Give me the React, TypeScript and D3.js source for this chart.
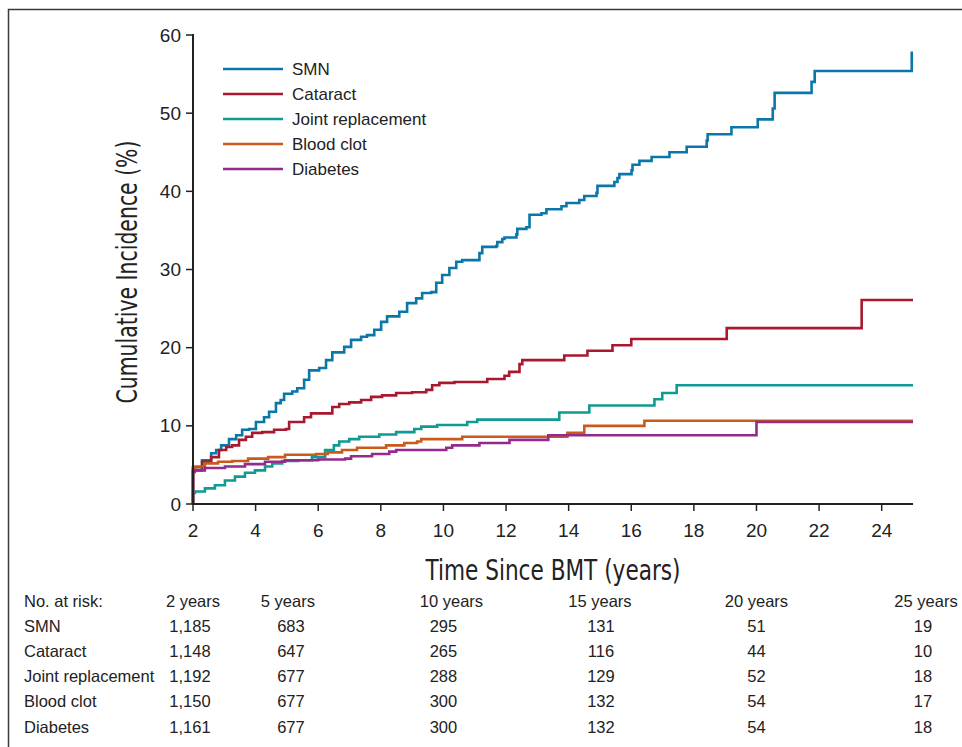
import React, { useEffect } from "react";
import * as d3 from "d3";

// series, [years since BMT, cumulative incidence %]
const smn: [number, number][] = [
  [2, 4.3], [2.29, 5.6], [2.58, 6.5], [2.74, 6.9], [2.9, 7.5], [3.15, 8.3], [3.38, 8.8],
  [3.57, 9.5], [3.79, 9.6], [4.01, 10.5], [4.27, 11.1], [4.43, 11.8], [4.65, 12.9],
  [4.8, 13.3], [4.91, 14.1], [5.17, 14.4], [5.33, 14.8], [5.55, 15.9], [5.71, 17.1],
  [6.03, 17.4], [6.25, 18.4], [6.45, 19.4], [6.83, 20.1], [7.05, 21.0], [7.37, 21.4],
  [7.56, 21.6], [7.79, 22.3], [8.01, 23.3], [8.2, 24.0], [8.59, 24.6], [8.84, 25.7],
  [9.13, 26.3], [9.32, 27.0], [9.61, 27.1], [9.77, 28.3], [9.96, 29.3], [10.19, 30.2],
  [10.41, 31.0], [10.6, 31.2], [11.15, 32.1], [11.24, 32.9], [11.69, 33.0], [11.72, 33.5],
  [11.88, 33.9], [11.95, 34.1], [12.33, 34.5], [12.36, 35.2], [12.65, 35.4], [12.75, 37.0],
  [13.13, 37.2], [13.29, 37.7], [13.77, 38.1], [13.93, 38.5], [14.34, 38.9], [14.5, 39.4],
  [14.89, 39.8], [14.92, 40.7], [15.46, 41.2], [15.56, 41.7], [15.62, 42.2], [16.01, 42.7],
  [16.04, 43.4], [16.26, 43.9], [16.65, 44.4], [17.22, 45.0], [17.77, 45.7], [18.41, 46.5],
  [18.44, 47.3], [19.2, 48.2], [20.04, 49.2], [20.52, 50.6], [20.58, 52.6], [21.76, 54.0],
  [21.86, 55.4], [24.96, 57.9],
];
const cataract: [number, number][] = [
  [2, 4.7], [2.29, 5.4], [2.58, 6.0], [2.83, 6.9], [3.06, 7.3], [3.25, 7.5], [3.47, 8.2],
  [3.69, 8.6], [3.89, 9.1], [4.21, 9.2], [4.59, 9.5], [4.97, 9.6], [5.07, 10.5], [5.55, 11.1],
  [5.77, 11.6], [6.45, 12.4], [6.67, 12.8], [6.99, 13.0], [7.37, 13.3], [7.69, 13.7],
  [8.04, 13.9], [8.49, 14.2], [9.0, 14.3], [9.45, 14.6], [9.64, 15.2], [9.87, 15.5],
  [10.35, 15.6], [11.4, 16.0], [11.95, 16.4], [12.1, 16.9], [12.43, 17.9], [12.52, 18.4],
  [13.86, 19.0], [14.6, 19.6], [15.4, 20.3], [16.0, 21.1], [19.05, 22.5], [23.36, 26.1],
  [25, 26.1],
];
const joint: [number, number][] = [
  [2, 1.4], [2.06, 1.6], [2.38, 2.0], [2.7, 2.4], [3.02, 3.0], [3.34, 3.5], [3.66, 4.0],
  [3.98, 4.3], [4.3, 4.8], [4.53, 5.2], [4.85, 5.5], [5.36, 5.6], [5.8, 6.0], [6.22, 6.9],
  [6.5, 7.5], [6.67, 8.0], [6.99, 8.3], [7.31, 8.6], [7.95, 8.9], [8.49, 9.2], [9.07, 9.6],
  [9.29, 9.9], [9.8, 10.1], [10.76, 10.5], [11.08, 10.8], [13.7, 11.7], [14.66, 12.6],
  [16.74, 13.4], [16.99, 14.2], [17.45, 15.2], [25, 15.2],
];
const bloodClot: [number, number][] = [
  [2, 4.6], [2.06, 4.8], [2.38, 5.2], [2.8, 5.4], [3.25, 5.5], [3.76, 5.8], [4.4, 6.0],
  [4.94, 6.3], [5.93, 6.4], [6.3, 6.6], [6.76, 6.9], [7.24, 7.2], [8.17, 7.5], [8.75, 7.8],
  [9.16, 8.0], [9.29, 8.3], [10.6, 8.6], [13.96, 9.1], [14.5, 10.0], [16.42, 10.65],
  [25, 10.65],
];
const diabetes: [number, number][] = [
  [2, 4.1], [2.06, 4.3], [2.38, 4.6], [3.02, 4.8], [3.66, 5.1], [4.3, 5.4], [4.94, 5.6],
  [6.0, 5.7], [6.86, 5.8], [7.05, 6.1], [7.72, 6.4], [8.27, 6.7], [8.49, 6.9], [10.09, 7.2],
  [10.28, 7.5], [11.15, 7.8], [12.11, 8.2], [13.35, 8.8], [20.0, 10.5], [25, 10.5],
];

const seriesNames = ["SMN", "Cataract", "Joint replacement", "Blood clot", "Diabetes"];
const seriesData = [smn, cataract, joint, bloodClot, diabetes];
const seriesColors = ["#0b77a8", "#a8192f", "#0f9a93", "#c95a1c", "#942a8b"];

const xTicks = [2, 4, 6, 8, 10, 12, 14, 16, 18, 20, 22, 24];
const yTicks = [0, 10, 20, 30, 40, 50, 60];

const riskYears = [2, 5, 10, 15, 20, 25];
const riskSMN = ["1,185", "683", "295", "131", "51", "19"];
const riskCataract = ["1,148", "647", "265", "116", "44", "10"];
const riskJoint = ["1,192", "677", "288", "129", "52", "18"];
const riskBlood = ["1,150", "677", "300", "132", "54", "17"];
const riskDiabetes = ["1,161", "677", "300", "132", "54", "18"];
const riskRows = [riskSMN, riskCataract, riskJoint, riskBlood, riskDiabetes];

const W = 962;
const H = 747;

const App = () => {
  useEffect(() => {
    document.body.style.margin = "0";
  }, []);

  const x = d3.scaleLinear().domain([2, 25]).range([193, 913]);
  const y = d3.scaleLinear().domain([0, 60]).range([504, 35]);

  const line = d3
    .line<[number, number]>()
    .x((d) => x(d[0]))
    .y((d) => y(d[1]))
    .curve(d3.curveStepAfter);

  const sans = "'Liberation Sans', Arial, Helvetica, sans-serif";
  const narrow = "'Liberation Sans Narrow', 'DejaVu Sans Condensed', sans-serif";

  // small nudges for the risk table columns
  const headDx = [0, 1, 8, 0, 0, 13];
  const numDx = [-3, 4, 0, 1, 0, 10];

  return (
    <svg width={W} height={H} style={{ display: "block", background: "#fff" }}>
      {/* frame */}
      <path d={`M8.5,${H} L8.5,9.5 L${W},9.5`} fill="none" stroke="#3a3a3a" strokeWidth={1.5} />

      {/* curves */}
      {seriesData.map((s, i) => (
        <path
          key={seriesNames[i]}
          d={line([[2, 0], ...s]) || ""}
          fill="none"
          stroke={seriesColors[i]}
          strokeWidth={2.6}
        />
      ))}

      {/* y axis */}
      <line x1={x(2)} x2={x(2)} y1={y(60) - 1} y2={y(0) + 1} stroke="#222" strokeWidth={2} />
      {yTicks.map((t) => (
        <g key={t}>
          <line x1={x(2) - 7} x2={x(2)} y1={y(t)} y2={y(t)} stroke="#222" strokeWidth={1.5} />
          <text
            x={x(2) - 12}
            y={y(t)}
            dy="0.35em"
            textAnchor="end"
            fontFamily={sans}
            fontSize={19}
            fill="#222"
          >
            {t}
          </text>
        </g>
      ))}

      {/* x axis */}
      <line x1={x(2) - 1} x2={x(25)} y1={y(0)} y2={y(0)} stroke="#222" strokeWidth={2} />
      {xTicks.map((t) => (
        <g key={t}>
          <line x1={x(t)} x2={x(t)} y1={y(0)} y2={y(0) + 7} stroke="#222" strokeWidth={1.5} />
          <text
            x={x(t)}
            y={y(0) + 33}
            textAnchor="middle"
            fontFamily={sans}
            fontSize={19}
            fill="#222"
          >
            {t}
          </text>
        </g>
      ))}

      {/* axis titles */}
      <text
        x={553}
        y={580}
        textAnchor="middle"
        fontFamily={narrow}
        fontSize={28}
        fill="#222"
        textLength={255}
        lengthAdjust="spacingAndGlyphs"
      >
        Time Since BMT (years)
      </text>
      <text
        transform="translate(137,272) rotate(-90)"
        textAnchor="middle"
        fontFamily={narrow}
        fontSize={28}
        fill="#222"
        textLength={263}
        lengthAdjust="spacingAndGlyphs"
      >
        Cumulative Incidence (%)
      </text>

      {/* legend */}
      {seriesNames.map((n, i) => (
        <g key={n} transform={`translate(223,${69 + i * 25})`}>
          <line x1={0} x2={60} y1={0} y2={0} stroke={seriesColors[i]} strokeWidth={2.6} />
          <text x={69} y={0} dy="0.35em" fontFamily={sans} fontSize={17} fill="#222">
            {n}
          </text>
        </g>
      ))}

      {/* number at risk */}
      <g fontFamily={sans} fontSize={16.5} fill="#222">
        <text x={24} y={601} dy="0.35em">
          No. at risk:
        </text>
        {riskYears.map((yr, j) => (
          <text
            key={yr}
            x={x(yr) + headDx[j]}
            y={601}
            dy="0.35em"
            textAnchor="middle"
          >
            {`${yr} years`}
          </text>
        ))}
        {riskRows.map((row, i) => (
          <g key={seriesNames[i]}>
            <text x={24} y={626 + i * 25.2} dy="0.35em">
              {seriesNames[i]}
            </text>
            {row.map((v, j) => (
              <text
                key={j}
                x={x(riskYears[j]) + numDx[j]}
                y={626 + i * 25.2}
                dy="0.35em"
                textAnchor="middle"
              >
                {v}
              </text>
            ))}
          </g>
        ))}
      </g>
    </svg>
  );
};

export default App;
